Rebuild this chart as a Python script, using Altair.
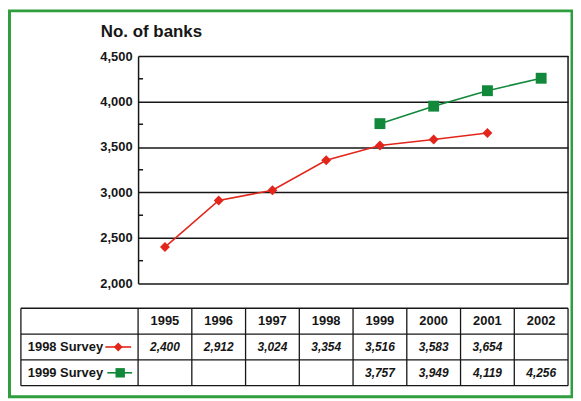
import altair as alt
import pandas as pd

# ---------------- data ----------------
years = ["1995", "1996", "1997", "1998", "1999", "2000", "2001", "2002"]
years_1998 = ["1995", "1996", "1997", "1998", "1999", "2000", "2001"]
survey_1998 = [2400, 2912, 3024, 3354, 3516, 3583, 3654]
years_1999 = ["1999", "2000", "2001", "2002"]
survey_1999 = [3757, 3949, 4119, 4256]
series = ["1998 Survey", "1999 Survey"]
row_names = ["header", "1998 Survey", "1999 Survey"]
y_ticks = [2000, 2500, 3000, 3500, 4000, 4500]
y_minor = [2250, 2750, 3250, 3750, 4250]

# ---------------- layout / style ----------------
W = 433
PLOT_H = 229
TABLE_TOP = 254
TABLE_BOTTOM = 332
H = 332
STEP = W / len(years)
LABEL_LEFT = -118

RED = "#e2261c"
GREEN = "#12883a"
BORDER = "#2e9e3e"
INK = "#161616"
FONT = "Liberation Sans, Arial, sans-serif"

df98 = pd.DataFrame({"year": years_1998, "value": survey_1998, "row": series[0]})
df99 = pd.DataFrame({"year": years_1999, "value": survey_1999, "row": series[1]})
df_vals = pd.concat([df98, df99], ignore_index=True)
df_head = pd.DataFrame({"year": years, "row": "header"})
df_rows = pd.DataFrame({"row": row_names})
df_series = pd.DataFrame({"row": series})
df_minor = pd.DataFrame({"v": y_minor})
df_one = pd.DataFrame({"a": [0]})
df_years = pd.DataFrame({"year": years})

x_enc = alt.X("year:N", scale=alt.Scale(type="point", domain=years, padding=0.5), axis=None)
y_scale = alt.Scale(domain=[2000, 4500], range=[PLOT_H, 0], zero=False, nice=False)
row_scale = alt.Scale(type="point", domain=row_names, range=[TABLE_TOP, TABLE_BOTTOM], padding=0.5)
y_row = alt.Y("row:N", scale=row_scale, axis=None)

y_axis = alt.Axis(
    values=y_ticks, labelExpr="format(datum.value, ',')", grid=True, gridColor=INK, gridWidth=1.5,
    domainColor=INK, domainWidth=1.5, ticks=False,
    labelFont=FONT, labelFontSize=13, labelFontWeight="bold", labelColor=INK,
    labelPadding=6,
    title="No. of banks", titleAngle=0, titleAlign="left", titleBaseline="middle",
    titleX=-38, titleY=-25, titleFont=FONT, titleFontSize=17,
    titleFontWeight="bold", titleColor=INK,
)

# outer green frame
frame = alt.Chart(df_one).mark_rect(fillOpacity=0, stroke=BORDER, strokeWidth=3).encode(
    x=alt.value(-129.5), x2=alt.value(437), y=alt.value(-45.5), y2=alt.value(343)
)

# minor ticks inside the axis
minor = alt.Chart(df_minor).mark_rule(color=INK, strokeWidth=1.5).encode(
    x=alt.value(0), x2=alt.value(5), y=alt.Y("v:Q", scale=y_scale, axis=None)
)

# right border of plot
right_border = alt.Chart(df_one).mark_rule(color=INK, strokeWidth=1.5).encode(
    x=alt.value(W), y=alt.value(0), y2=alt.value(PLOT_H)
)

line98 = alt.Chart(df98).mark_line(color=RED, strokeWidth=1.6).encode(
    x=x_enc, y=alt.Y("value:Q", scale=y_scale, axis=y_axis)
)
pts98 = alt.Chart(df98).mark_point(shape="diamond", filled=True, color=RED, size=100, opacity=1).encode(
    x=x_enc, y=alt.Y("value:Q", scale=y_scale, axis=None)
)
line99 = alt.Chart(df99).mark_line(color=GREEN, strokeWidth=1.6).encode(
    x=x_enc, y=alt.Y("value:Q", scale=y_scale, axis=None)
)
pts99 = alt.Chart(df99).mark_point(shape="square", filled=True, color=GREEN, size=120, opacity=1).encode(
    x=x_enc, y=alt.Y("value:Q", scale=y_scale, axis=None)
)

# ---------------- table ----------------
head_text = alt.Chart(df_head).mark_text(
    font=FONT, fontSize=13, fontWeight="bold", color=INK
).encode(x=x_enc, y=y_row, text="year:N")

val_text = alt.Chart(df_vals).mark_text(
    font=FONT, fontSize=12, fontWeight="bold", fontStyle="italic", color=INK
).encode(x=x_enc, y=y_row, text=alt.Text("value:Q", format=","))

row_text = alt.Chart(df_series).mark_text(
    font=FONT, fontSize=13, fontWeight="bold", color=INK, align="left"
).encode(x=alt.value(-111), y=y_row, text="row:N")

sym_line98 = alt.Chart(df_series[df_series.row == series[0]]).mark_rule(color=RED, strokeWidth=1.6).encode(
    x=alt.value(-33), x2=alt.value(-7), y=y_row
)
sym_pt98 = alt.Chart(df_series[df_series.row == series[0]]).mark_point(
    shape="diamond", filled=True, color=RED, size=80, opacity=1
).encode(x=alt.value(-20), y=y_row)
sym_line99 = alt.Chart(df_series[df_series.row == series[1]]).mark_rule(color=GREEN, strokeWidth=1.6).encode(
    x=alt.value(-31), x2=alt.value(-6), y=y_row
)
sym_pt99 = alt.Chart(df_series[df_series.row == series[1]]).mark_point(
    shape="square", filled=True, color=GREEN, size=90, opacity=1
).encode(x=alt.value(-18), y=y_row)

h_rules = alt.Chart(df_rows).mark_rule(color=INK, strokeWidth=1.3).encode(
    x=alt.value(LABEL_LEFT), x2=alt.value(W), y=y_row, yOffset=alt.value(-13)
)
h_bottom = alt.Chart(df_rows[df_rows.row == row_names[-1]]).mark_rule(color=INK, strokeWidth=1.3).encode(
    x=alt.value(LABEL_LEFT), x2=alt.value(W), y=y_row, yOffset=alt.value(13)
)
v_rules = alt.Chart(df_years).mark_rule(color=INK, strokeWidth=1.3).encode(
    x=x_enc, xOffset=alt.value(-STEP / 2), y=alt.value(TABLE_TOP), y2=alt.value(TABLE_BOTTOM)
)
v_edges = alt.Chart(df_one).mark_rule(color=INK, strokeWidth=1.3).encode(
    x=alt.value(LABEL_LEFT), y=alt.value(TABLE_TOP), y2=alt.value(TABLE_BOTTOM)
)
v_right = alt.Chart(df_one).mark_rule(color=INK, strokeWidth=1.3).encode(
    x=alt.value(W), y=alt.value(TABLE_TOP), y2=alt.value(TABLE_BOTTOM)
)

chart = alt.layer(
    frame, line98, minor, right_border, line99, pts98, pts99,
    h_rules, h_bottom, v_rules, v_edges, v_right,
    head_text, val_text, row_text, sym_line98, sym_pt98, sym_line99, sym_pt99,
).resolve_scale(y="independent").properties(
    width=W, height=H,
    autosize=alt.AutoSizeParams(type="none"),
    padding={"left": 131, "top": 47, "right": 5, "bottom": 14},
    background="white",
).configure_view(stroke=None)

chart.save("out.html", embed_options={"renderer": "svg", "actions": False})
